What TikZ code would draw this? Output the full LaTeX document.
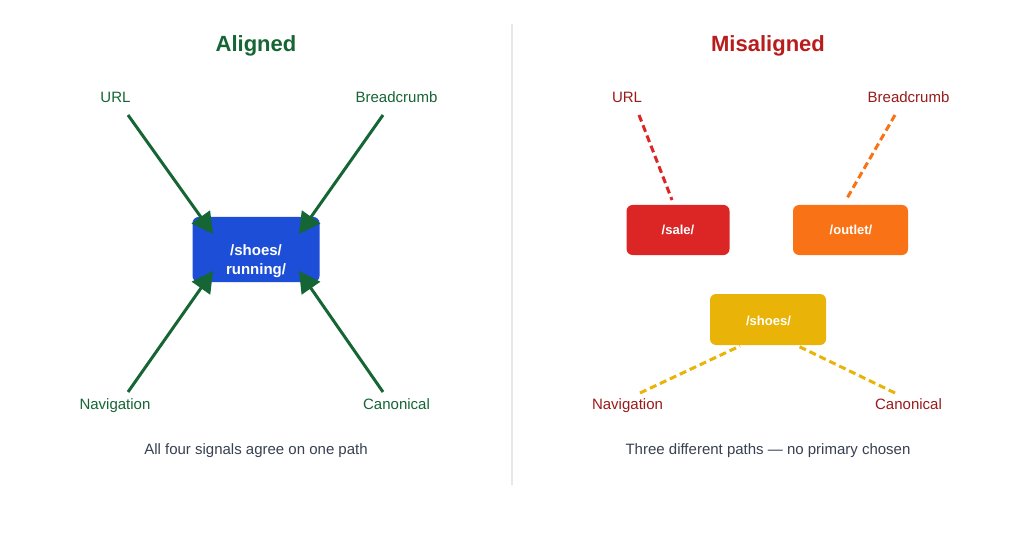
\documentclass[tikz,border=0pt]{standalone}
\usepackage{fontspec}
\setmainfont{Liberation Sans}
\usetikzlibrary{arrows.meta}
\definecolor{grn}{HTML}{166534}
\definecolor{ttlred}{HTML}{B91C1C}
\definecolor{lblred}{HTML}{991B1B}
\definecolor{capgray}{HTML}{374151}
\definecolor{divgray}{HTML}{E5E7EB}
\definecolor{boxblue}{HTML}{1D4ED8}
\definecolor{boxred}{HTML}{DC2626}
\definecolor{boxorange}{HTML}{F97316}
\definecolor{boxyellow}{HTML}{EAB308}
\tikzset{
  lbl/.style={anchor=base, inner sep=0pt, font=\fontsize{15}{18}\selectfont},
  ttl/.style={anchor=base, inner sep=0pt, font=\fontsize{22}{26}\selectfont\bfseries},
  boxtxt/.style={anchor=base, inner sep=0pt, text=white, font=\fontsize{13}{16}\selectfont\bfseries},
  pathbox/.style={draw=none, rounded corners=6pt, inner sep=0pt},
  garrow/.style={draw=grn, line width=3pt, -{Triangle[length=21pt,width=22pt]}},
  dline/.style={line width=3pt, dash pattern=on 7pt off 4pt},
}
\begin{document}
\begin{tikzpicture}[x=1pt,y=-1pt]
\useasboundingbox[fill=white] (0,0) rectangle (1024,537);

% divider
\coordinate (divtop) at (512,24);
\coordinate (divbot) at (512,485);
\draw[divgray, line width=1.5pt] (divtop) -- (divbot);

% ---------- Left: Aligned ----------
\node[ttl, text=grn] (ttlA) at (256,52) {Aligned};

\node[lbl, text=grn] (lurl) at (115.5,103) {URL};
\node[lbl, text=grn] (lbc) at (396.5,103) {Breadcrumb};
\node[lbl, text=grn] (lnav) at (115,409) {Navigation};
\node[lbl, text=grn] (lcan) at (396.5,409) {Canonical};

\node[pathbox, fill=boxblue, minimum width=127pt, minimum height=65pt] (main) at (256,249.5) {};
\node[boxtxt, font=\fontsize{15}{18}\selectfont\bfseries] (mainA) at (256,255) {/shoes/};
\node[boxtxt, font=\fontsize{15}{18}\selectfont\bfseries] (mainB) at (256,274) {running/};

\coordinate (s1) at (128,115);
\coordinate (e1) at (213,234);
\coordinate (s2) at (383,115);
\coordinate (e2) at (299,234);
\coordinate (s3) at (128,392);
\coordinate (e3) at (213,271);
\coordinate (s4) at (383,392);
\coordinate (e4) at (299,271);
\draw[garrow] (s1) -- (e1);
\draw[garrow] (s2) -- (e2);
\draw[garrow] (s3) -- (e3);
\draw[garrow] (s4) -- (e4);

\node[lbl, text=capgray] (capA) at (256,454) {All four signals agree on one path};

% ---------- Right: Misaligned ----------
\node[ttl, text=ttlred] (ttlM) at (768,52) {Misaligned};

\node[lbl, text=lblred] (rurl) at (627,103) {URL};
\node[lbl, text=lblred] (rbc) at (908.5,103) {Breadcrumb};
\node[lbl, text=lblred] (rnav) at (627.5,409) {Navigation};
\node[lbl, text=lblred] (rcan) at (908.5,409) {Canonical};

\node[pathbox, fill=boxred, minimum width=103pt, minimum height=50pt] (sale) at (678,230) {};
\node[boxtxt] (saleT) at (678,234) {/sale/};
\node[pathbox, fill=boxorange, minimum width=115pt, minimum height=50pt] (outlet) at (850.5,230) {};
\node[boxtxt] (outletT) at (851,234) {/outlet/};
\node[pathbox, fill=boxyellow, minimum width=116pt, minimum height=51pt] (shoes) at (768,319.5) {};
\node[boxtxt] (shoesT) at (768.5,325) {/shoes/};

\coordinate (r1s) at (639,115);
\coordinate (r1e) at (672,200);
\coordinate (r2s) at (895,115);
\coordinate (r2e) at (846,200);
\coordinate (r3s) at (640,393);
\coordinate (r3e) at (740,346);
\coordinate (r4s) at (895,393);
\coordinate (r4e) at (798,346);
\draw[dline, boxred] (r1s) -- (r1e);
\draw[dline, boxorange] (r2s) -- (r2e);
\draw[dline, boxyellow] (r3s) -- (r3e);
\draw[dline, boxyellow] (r4s) -- (r4e);

\node[lbl, text=capgray] (capM) at (768,454) {Three different paths — no primary chosen};
\end{tikzpicture}
\end{document}
